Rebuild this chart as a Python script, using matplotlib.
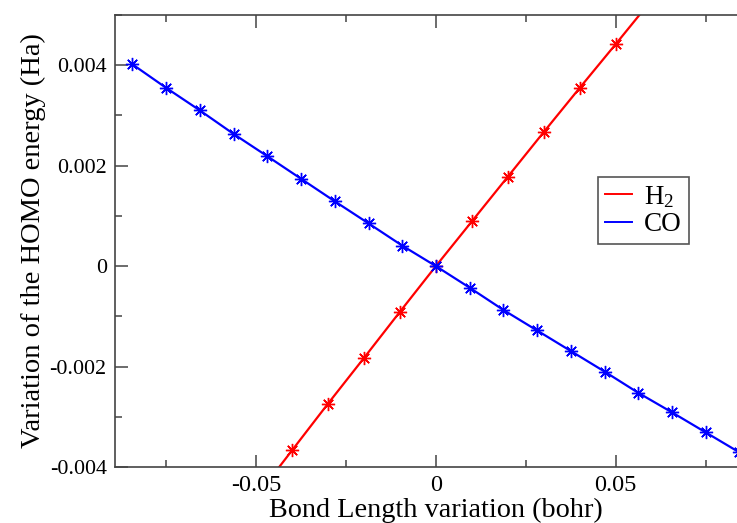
import numpy as np
import matplotlib
matplotlib.use("Agg")
import matplotlib.pyplot as plt
from matplotlib.ticker import MultipleLocator, FuncFormatter

plt.rcParams['font.family'] = ['Liberation Serif', 'DejaVu Serif']
plt.rcParams['mathtext.fontset'] = 'custom'
plt.rcParams['mathtext.rm'] = 'Liberation Serif'
plt.rcParams['mathtext.it'] = 'Liberation Serif:italic'

# H2: bond length variation (bohr) and HOMO energy variation (Ha)
h2_x = [-0.05, -0.04, -0.03, -0.02, -0.01, 0.0, 0.01, 0.02, 0.03, 0.04, 0.05, 0.06]
h2_y = [-0.0046, -0.00367, -0.00274, -0.00183, -0.00091, 0.0,
        0.00089, 0.00178, 0.00267, 0.00355, 0.00442, 0.0053]

# CO
co_x = [-0.0844, -0.0750, -0.0656, -0.0562, -0.0469, -0.0375, -0.0281, -0.0187, -0.0094,
        0.0, 0.0094, 0.0187, 0.0281, 0.0375, 0.0469, 0.0562, 0.0656, 0.0750, 0.0844]
co_y = [0.00402, 0.00355, 0.00310, 0.00263, 0.00219, 0.00174, 0.00129, 0.00085, 0.00041,
        0.0, -0.00043, -0.00087, -0.00128, -0.00169, -0.00210, -0.00252, -0.00291, -0.00331, -0.00371]

fig = plt.figure(figsize=(7.37, 5.23), dpi=100)
# right edge of the axes falls outside the picture, as in the original
ax = fig.add_axes([115/737, 56/523, 641/737, 452/523])

star = (8, 2, 0)
ax.plot(h2_x, h2_y, color='#ff0000', lw=1.6, marker=star, ms=9.5, mew=1.0, label=r'H$_2$')
ax.plot(co_x, co_y, color='#0000ff', lw=1.6, marker=star, ms=9.5, mew=1.0, label='CO')

ax.set_xlim(-0.0892, 0.089)
ax.set_ylim(-0.004, 0.005)

ax.xaxis.set_major_locator(MultipleLocator(0.05))
ax.xaxis.set_minor_locator(MultipleLocator(0.025))
ax.yaxis.set_major_locator(MultipleLocator(0.002))
ax.yaxis.set_minor_locator(MultipleLocator(0.001))
fmt = FuncFormatter(lambda v, p: '%g' % round(v, 6))
ax.xaxis.set_major_formatter(fmt)
ax.yaxis.set_major_formatter(fmt)

ax.tick_params(which='both', direction='in', top=True, right=True, color='#444444',
               width=1.1, pad=6)
ax.tick_params(axis='x', labelsize=17.5)
ax.tick_params(axis='y', labelsize=15.8)
ax.tick_params(which='major', length=9)
ax.tick_params(which='minor', length=4.8)
for s in ax.spines.values():
    s.set_color('#444444')
    s.set_linewidth(1.2)

ax.set_xlabel('Bond Length variation (bohr)', fontsize=20.3)
ax.set_ylabel('Variation of the HOMO energy (Ha)', fontsize=20.5)
ax.xaxis.set_label_coords(0.5, -0.068)
ax.yaxis.set_label_coords(-0.108, 0.5)

leg = ax.legend(loc='upper left', bbox_to_anchor=(483/641, 290/452), borderaxespad=0,
                fontsize=19.5, handlelength=1.0, handletextpad=0.45, labelspacing=0.1,
                borderpad=0.25, fancybox=False, edgecolor='#555555', framealpha=1)
leg.get_frame().set_linewidth(1.2)
for h in leg.legend_handles:
    h.set_marker('')
    h.set_linewidth(1.4)

fig.savefig('out.png', dpi=100)
